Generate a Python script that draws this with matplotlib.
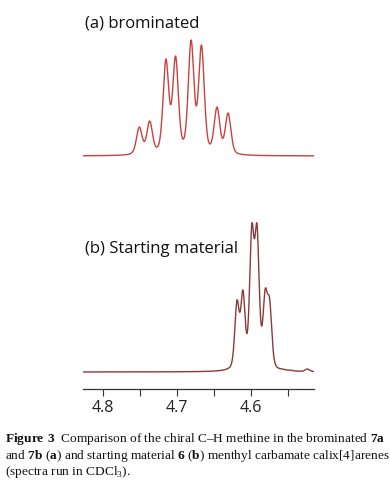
import numpy as np
import matplotlib
matplotlib.use("Agg")
import matplotlib.pyplot as plt

# peak positions (ppm) and apparent heights (px above baseline)
A_PPM = [4.751, 4.737, 4.715, 4.702, 4.681, 4.667, 4.646, 4.631]
A_HEIGHT = [29, 35, 97, 100, 116, 111, 49, 43]
A_BASE = 233

B_PPM = [4.619, 4.611, 4.599, 4.592, 4.581, 4.575, 4.557, 4.547, 4.524]
B_HEIGHT = [72, 82, 148, 148, 83, 74, 3, 2, 3]
B_BASE = 17

TICKS = [4.8, 4.75, 4.7, 4.65, 4.6, 4.55]
TICK_LABELS = ["4.8", "", "4.7", "", "4.6", ""]

ETA = 0.35


def line_shape(d, hwhm):
    lor = 1.0 / (1.0 + (d / hwhm) ** 2)
    gau = np.exp(-np.log(2) * (d / hwhm) ** 2)
    return ETA * lor + (1 - ETA) * gau


def spectrum(x, ppm, height, hwhm):
    ppm = np.array(ppm)
    m = line_shape(ppm[:, None] - ppm[None, :], hwhm)
    amps = np.linalg.solve(m, np.array(height, float))
    return sum(a * line_shape(x - p, hwhm) for a, p in zip(amps, ppm))


x = np.linspace(4.827, 4.515, 1500)

fig = plt.figure(figsize=(3.9, 4.8), dpi=100)
ax = fig.add_axes([83 / 390, 1 - 389 / 480, 231 / 390, 389 / 480])

ax.plot(x, A_BASE + spectrum(x, A_PPM, A_HEIGHT, 0.0045), color="#c8423f", lw=1.0)
ax.plot(x, B_BASE + spectrum(x, B_PPM, B_HEIGHT, 0.0035), color="#8a3a3a", lw=1.0)

ax.set_xlim(4.827, 4.515)
ax.set_ylim(0, 389)
for s in ["top", "left", "right"]:
    ax.spines[s].set_visible(False)
ax.spines["bottom"].set_color("#333333")
ax.spines["bottom"].set_linewidth(0.9)
ax.set_yticks([])
ax.set_xticks(TICKS)
ax.set_xticklabels(TICK_LABELS, fontfamily="Open Sans", fontsize=11.5, color="#222222")
ax.tick_params(axis="x", length=5, width=0.8, pad=3, color="#333333")

fig.text(85 / 390, 1 - 23 / 480, "(a) brominated", fontfamily="Open Sans",
         fontsize=12, va="center", ha="left", color="#111111")
fig.text(85 / 390, 1 - 249 / 480, "(b) Starting material", fontfamily="Open Sans",
         fontsize=12, va="center", ha="left", color="#111111")

plt.rcParams["mathtext.fontset"] = "custom"
plt.rcParams["mathtext.rm"] = "Liberation Serif"
plt.rcParams["mathtext.bf"] = "Liberation Serif:bold"

cap = dict(fontfamily="Liberation Serif", fontsize=9.6, va="center", ha="left", color="#111111")
fig.text(5 / 390, 1 - 439 / 480,
         r"$\mathbf{Figure\ 3}$  Comparison of the chiral C–H methine in the brominated $\mathbf{7a}$", **cap)
fig.text(5 / 390, 1 - 456 / 480,
         r"and $\mathbf{7b}$ ($\mathbf{a}$) and starting material $\mathbf{6}$ ($\mathbf{b}$) menthyl carbamate calix[4]arenes", **cap)
fig.text(5 / 390, 1 - 472 / 480, r"(spectra run in CDCl$_3$).", **cap)

fig.savefig("out.png", dpi=100)
